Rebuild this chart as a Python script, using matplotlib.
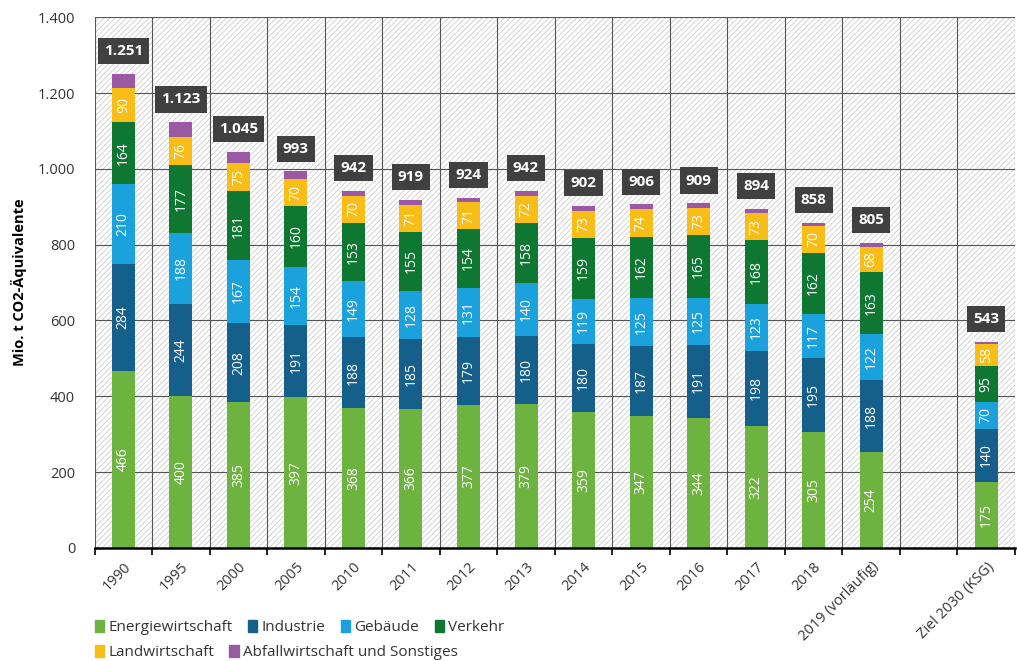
import matplotlib
matplotlib.use("Agg")
import matplotlib.pyplot as plt
import numpy as np
from matplotlib.patches import Rectangle, Patch

plt.rcParams['font.family'] = ['Open Sans', 'DejaVu Sans']
plt.rcParams['hatch.linewidth'] = 0.6

labels = ['1990', '1995', '2000', '2005', '2010', '2011', '2012', '2013', '2014',
          '2015', '2016', '2017', '2018', '2019 (vorläufig)', '', 'Ziel 2030 (KSG)']
energie = [466, 400, 385, 397, 368, 366, 377, 379, 359, 347, 344, 322, 305, 254, 0, 175]
industrie = [284, 244, 208, 191, 188, 185, 179, 180, 180, 187, 191, 198, 195, 188, 0, 140]
gebaeude = [210, 188, 167, 154, 149, 128, 131, 140, 119, 125, 125, 123, 117, 122, 0, 70]
verkehr = [164, 177, 181, 160, 153, 155, 154, 158, 159, 162, 165, 168, 162, 163, 0, 95]
landwirt = [90, 76, 75, 70, 70, 71, 71, 72, 73, 74, 73, 73, 70, 68, 0, 58]
abfall = [37, 38, 29, 21, 14, 14, 12, 13, 12, 11, 11, 10, 9, 10, 0, 5]
totals = ['1.251', '1.123', '1.045', '993', '942', '919', '924', '942', '902',
          '906', '909', '894', '858', '805', '', '543']

series = [
    ('Energiewirtschaft', energie, '#6db33f'),
    ('Industrie', industrie, '#155f8b'),
    ('Gebäude', gebaeude, '#1ba1dc'),
    ('Verkehr', verkehr, '#0e7833'),
    ('Landwirtschaft', landwirt, '#f8bd16'),
    ('Abfallwirtschaft und Sonstiges', abfall, '#9b59a4'),
]

fig = plt.figure(figsize=(10.17, 6.61), dpi=100)
ax = fig.add_axes([0.093, 0.171, 0.905, 0.803])

x = np.arange(len(labels))
ax.set_xlim(-0.5, len(labels) - 0.5)
ax.set_ylim(0, 1400)

# hatched background
ax.add_patch(Rectangle((0, 0), 1, 1, transform=ax.transAxes, facecolor='white',
                       edgecolor='#cccccc', linewidth=0, hatch='//////', zorder=0.5))

# grid
for yv in range(200, 1401, 200):
    ax.axhline(yv, color='#555555', lw=0.8, zorder=1)
for xv in np.arange(-0.5, len(labels), 1.0):
    ax.axvline(xv, color='#555555', lw=0.8, zorder=1)

bottom = np.zeros(len(labels))
for name, vals, col in series:
    vals = np.array(vals, dtype=float)
    ax.bar(x, vals, 0.4, bottom=bottom, color=col, zorder=3, label=name)
    if name != 'Abfallwirtschaft und Sonstiges':
        for xi, v, b in zip(x, vals, bottom):
            if v > 0:
                ax.text(xi, b + v / 2, str(int(v)), rotation=90, ha='center',
                        va='center', color='white', fontsize=10, zorder=4)
    bottom += vals

for xi, tot, t in zip(x, bottom, totals):
    if t:
        ax.text(xi, tot + 60, t, ha='center', va='center', color='white',
                fontsize=11, fontweight='bold', zorder=5,
                bbox=dict(boxstyle='square,pad=0.4', fc='#404040', ec='none'))

ax.set_yticks(range(0, 1401, 200))
ax.set_yticklabels(['0', '200', '400', '600', '800', '1.000', '1.200', '1.400'])
ax.tick_params(axis='y', length=0, labelsize=10.5, labelcolor='#333333', pad=14)
ax.set_xticks(x)
ax.set_xticklabels(labels, rotation=45, ha='right', rotation_mode='anchor',
                   fontsize=10.5, color='#333333')
ax.tick_params(axis='x', length=0, pad=8)
ax.set_xticks(np.arange(-0.5, len(labels), 1.0), minor=True)
ax.tick_params(axis='x', which='minor', length=5, width=1.2, color='black', direction='out')

for s in ['top', 'right', 'left']:
    ax.spines[s].set_visible(False)
ax.spines['bottom'].set_linewidth(1.8)
ax.spines['bottom'].set_zorder(6)

ax.set_ylabel('Mio. t CO2-Äquivalente', fontsize=10.5, fontweight='bold', labelpad=8)

handles = [Patch(color=c, label=n) for n, _, c in series]
leg1 = fig.legend(handles=handles[:4], loc='upper left', bbox_to_anchor=(0.093, 0.062),
                  ncol=4, frameon=False, fontsize=11, handlelength=0.6, handleheight=0.8,
                  handletextpad=0.3, columnspacing=1.0, borderaxespad=0, borderpad=0)
leg2 = fig.legend(handles=handles[4:], loc='upper left', bbox_to_anchor=(0.093, 0.024),
                  ncol=2, frameon=False, fontsize=11, handlelength=0.6, handleheight=0.8,
                  handletextpad=0.3, columnspacing=1.0, borderaxespad=0, borderpad=0)
for leg in (leg1, leg2):
    for t in leg.get_texts():
        t.set_color('#333333')

fig.savefig('out.png', dpi=100)
